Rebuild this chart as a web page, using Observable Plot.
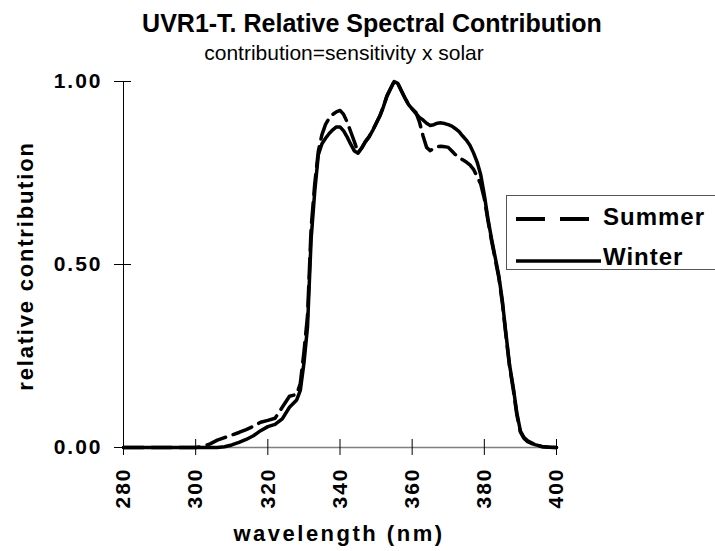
<!DOCTYPE html>
<html><head><meta charset="utf-8">
<script src="https://cdn.jsdelivr.net/npm/d3@7"></script>
<script src="https://cdn.jsdelivr.net/npm/@observablehq/plot@0.6"></script>
<style>body{margin:0;background:#fff} #chart{width:715px;height:551px}</style>
</head><body><div id="chart"></div>
<script>
const wavelength = [280,290,300,302,304,306,308,310,312,314,316,318,320,322,324,326,328,
  329,330,331,332,333,334,335,336,337,338,339,340,341,342,343,344,345,346,347,348,349,350,
  351,352,353,354,355,356,357,358,359,360,361,362,363,364,365,366,367,368,369,370,371,372,
  373,374,375,376,377,378,379,380,381,382,383,384,385,386,387,388,389,390,391,392,394,396,398,400];
const winter = [0,0,0,0,0,0,0.002,0.007,0.014,0.022,0.032,0.046,0.057,0.063,0.078,0.11,0.13,
  0.156,0.23,0.33,0.57,0.70,0.80,0.83,0.845,0.858,0.868,0.876,0.876,0.865,0.848,0.828,0.81,0.804,0.818,0.835,0.848,0.865,0.885,
  0.905,0.93,0.96,0.98,1.0,0.995,0.975,0.955,0.937,0.925,0.913,0.902,0.895,0.886,0.88,0.882,0.886,0.887,0.885,0.882,0.878,0.871,
  0.863,0.851,0.84,0.826,0.805,0.78,0.745,0.69,0.625,0.57,0.52,0.47,0.40,0.31,0.225,0.165,0.095,0.045,0.027,0.018,0.008,0.003,0.001,0];
const summer = [0,0,0,0.003,0.01,0.02,0.027,0.034,0.041,0.049,0.058,0.069,0.074,0.08,0.11,0.14,0.145,
  0.175,0.26,0.36,0.60,0.72,0.81,0.855,0.883,0.9,0.91,0.917,0.921,0.91,0.889,0.862,0.835,0.806,0.818,0.835,0.848,0.865,0.885,
  0.905,0.93,0.96,0.98,1.0,0.995,0.975,0.955,0.937,0.925,0.916,0.89,0.852,0.82,0.811,0.818,0.822,0.823,0.822,0.82,0.81,0.80,
  0.792,0.786,0.78,0.772,0.76,0.74,0.72,0.68,0.62,0.565,0.515,0.465,0.395,0.305,0.22,0.16,0.09,0.042,0.025,0.016,0.007,0.002,0.001,0];
const xTicks = [280,300,320,340,360,380,400];
const yTicks = [0,0.5,1];
const seriesNames = ["Summer","Winter"];
const titleText = "UVR1-T. Relative Spectral Contribution";
const subtitleText = "contribution=sensitivity x solar";
const xLabel = "wavelength (nm)";
const yLabel = "relative contribution";

const summerRows = wavelength.map((w,i)=>({w, v: summer[i]}));
const winterRows = wavelength.map((w,i)=>({w, v: winter[i]}));
const font = "'Liberation Sans', Arial, sans-serif";

const svg = Plot.plot({
  width: 715, height: 551,
  marginLeft: 123, marginRight: 159, marginTop: 81, marginBottom: 104,
  style: {fontFamily: font, background: "#fff", overflow: "visible", color: "#000"},
  x: {domain: [280, 400]},
  y: {domain: [0, 1]},
  marks: [
    Plot.ruleY([0], {stroke: "#808080", strokeWidth: 1.5}),
    Plot.ruleX([280], {stroke: "#000", strokeWidth: 1}),
    Plot.tickX(xTicks, {x: d => d, insetTop: 358, stroke: "#000"}),
    Plot.tickY(yTicks, {y: d => d, insetRight: 425, stroke: "#000"}),
    Plot.axisX({ticks: xTicks, tickSize: 8, tickPadding: 12, tickRotate: -90, fontSize: 21, fontWeight: "bold",
      label: null, tickFormat: d => String(d), stroke: "#000"}),
    Plot.axisY({ticks: yTicks, tickSize: 9, tickPadding: 12, fontSize: 21, fontWeight: "bold",
      label: null, tickFormat: d3.format(".2f"), stroke: "#000"}),
    Plot.line(winterRows, {x: "w", y: "v", stroke: "#000", strokeWidth: 3.5, strokeLinejoin: "round"}),
    Plot.line(summerRows, {x: "w", y: "v", stroke: "#000", strokeWidth: 3.5, strokeDasharray: "20,8"})
  ]
});
svg.querySelectorAll('g[aria-label$="tick label"]').forEach(e => e.style.letterSpacing = "2px");
document.getElementById("chart").appendChild(svg);

const s = d3.select(svg);
s.append("text").attr("x", 372).attr("y", 32).attr("text-anchor", "middle")
  .attr("font-size", 25).attr("font-weight", "bold").attr("fill", "#000").text(titleText);
s.append("text").attr("x", 344).attr("y", 60).attr("text-anchor", "middle")
  .attr("font-size", 21).attr("fill", "#000").text(subtitleText);
s.append("text").attr("x", 339).attr("y", 541).attr("text-anchor", "middle")
  .attr("font-size", 22).attr("font-weight", "bold").attr("letter-spacing", "2.5px").attr("fill", "#000").text(xLabel);
s.append("text").attr("transform", "translate(33,266) rotate(-90)").attr("text-anchor", "middle")
  .attr("font-size", 22).attr("font-weight", "bold").attr("letter-spacing", "1.8px").attr("fill", "#000").text(yLabel);

// legend
const lg = s.append("g");
lg.append("rect").attr("x", 506.5).attr("y", 195.5).attr("width", 210).attr("height", 74)
  .attr("fill", "#fff").attr("stroke", "#555").attr("stroke-width", 1);
const styles = [{dash: "29,15", w: 4, x2: 589, ty: 225}, {dash: null, w: 3.5, x2: 601, ty: 265}];
seriesNames.forEach((name, i) => {
  const y = 219 + i * 42;
  lg.append("line").attr("x1", 516).attr("x2", styles[i].x2).attr("y1", y).attr("y2", y)
    .attr("stroke", "#000").attr("stroke-width", styles[i].w).attr("stroke-dasharray", styles[i].dash);
  lg.append("text").attr("x", 603).attr("y", styles[i].ty).attr("text-anchor", "start")
    .attr("font-size", 24).attr("font-weight", "bold").attr("letter-spacing", "1px").attr("fill", "#000").text(name);
});
</script></body></html>
